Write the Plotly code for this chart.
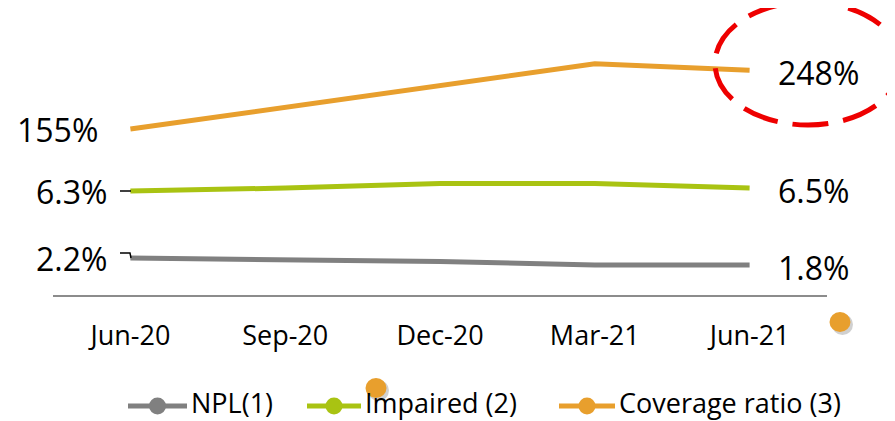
import plotly.graph_objects as go

# quarters and series (each line sits on its own hidden scale, like the slide)
QUARTERS = ["Jun-20", "Sep-20", "Dec-20", "Mar-21", "Jun-21"]
NPL = [2.2, 2.1, 2.0, 1.8, 1.8]
IMPAIRED = [6.3, 6.5, 6.8, 6.8, 6.5]
COVERAGE = [155, 189, 224, 258, 248]

NAMES = ["NPL(1)", "Impaired (2)", "Coverage ratio (3)"]
COLORS = ["#808080", "#A9C312", "#E89F2D"]

FONT = "Open Sans"

# the page body has an 8px margin, so the figure starts at (8, 8) in the window
OFF = 8
W, H = 895, 421
# plot area in window pixels, used to place the decorations
L, R, T, B = 53, 827, 10, 295
# legend swatches (start, end) in window pixels, drawn by hand for long swatches
LEGEND_SWATCH = [(128, 187), (307, 361), (559, 615)]
LEGEND_Y = 406


def px_x(p):
    return (p - L) / (R - L)


def px_y(p):
    return (B - p) / (B - T)


fig = go.Figure()

series = [NPL, IMPAIRED, COVERAGE]
axes = ["y", "y2", "y3"]
for vals, name, color, ax, (s0, s1) in zip(series, NAMES, COLORS, axes, LEGEND_SWATCH):
    fig.add_trace(go.Scatter(
        x=QUARTERS, y=vals, yaxis=ax, mode="lines", name=name,
        line=dict(color=color, width=5), showlegend=False, hoverinfo="skip",
    ))

    fmt = "{:.0f}%" if name.startswith("Coverage") else "{:.1f}%"
    fig.add_annotation(
        x=QUARTERS[0], y=vals[0], yref=ax, text=fmt.format(vals[0]),
        showarrow=False, xanchor="right", xshift=-21 if ax != "y3" else -30,
        font=dict(size=32, color="black", family=FONT),
    )
    fig.add_annotation(
        x=QUARTERS[-1], y=vals[-1], yref=ax, text=fmt.format(vals[-1]),
        showarrow=False, xanchor="left", xshift=26, yshift=-2,
        font=dict(size=32, color="black", family=FONT),
    )

    # legend entry: line swatch with a dot, then the name
    fig.add_shape(type="line", xref="paper", yref="paper",
                  x0=px_x(s0), x1=px_x(s1), y0=px_y(LEGEND_Y), y1=px_y(LEGEND_Y),
                  line=dict(color=color, width=5))
    mid = (s0 + s1) / 2
    fig.add_shape(type="circle", xref="paper", yref="paper",
                  x0=px_x(mid - 8.5), x1=px_x(mid + 8.5),
                  y0=px_y(LEGEND_Y + 8.5), y1=px_y(LEGEND_Y - 8.5),
                  fillcolor=color, line=dict(width=0))
    fig.add_annotation(
        xref="paper", yref="paper", x=px_x(s1 + 2), y=px_y(LEGEND_Y - 4),
        text=name, showarrow=False, xanchor="left", yanchor="middle",
        font=dict(size=27, color="black", family=FONT),
    )

# small leader lines next to the start labels
fig.add_shape(type="line", xref="paper", yref="paper",
              x0=px_x(120), x1=px_x(131), y0=px_y(191), y1=px_y(191),
              line=dict(color="black", width=1.5))
fig.add_shape(type="path", xref="paper", yref="paper",
              path=f"M{px_x(120)},{px_y(253)} L{px_x(130)},{px_y(253)} L{px_x(131)},{px_y(258)}",
              line=dict(color="black", width=1.5))

# red dashed highlight around the latest coverage ratio
fig.add_shape(type="circle", xref="paper", yref="paper",
              x0=px_x(715), x1=px_x(901), y0=px_y(125), y1=px_y(2),
              line=dict(color="#EE0000", width=5, dash="36px,15px"))

# stray orange dots from the slide, with a soft shadow
for cx, cy in [(840, 322), (376, 388)]:
    fig.add_shape(type="circle", xref="paper", yref="paper",
                  x0=px_x(cx - 8), x1=px_x(cx + 13), y0=px_y(cy + 13), y1=px_y(cy - 8),
                  fillcolor="rgba(120,120,120,0.35)", line=dict(width=0))
    fig.add_shape(type="circle", xref="paper", yref="paper",
                  x0=px_x(cx - 10.5), x1=px_x(cx + 10.5), y0=px_y(cy + 10), y1=px_y(cy - 10),
                  fillcolor="#E89F2D", line=dict(width=0))

hidden = dict(visible=False, fixedrange=True)
fig.update_layout(
    width=W, height=H,
    margin=dict(l=L - OFF, r=W - (R - OFF), t=T - OFF, b=H - (B - OFF), autoexpand=False),
    paper_bgcolor="white", plot_bgcolor="white",
    font=dict(family=FONT, color="black"),
    xaxis=dict(
        range=[-0.5, 4.5], showgrid=False, zeroline=False,
        showline=True, linecolor="#8C8C8C", linewidth=2,
        ticks="", tickfont=dict(size=27, color="black"), ticklabelstandoff=16,
    ),
    yaxis=dict(range=[0.086, 16.37], **hidden),
    yaxis2=dict(range=[-0.63, 18.37], overlaying="y", **hidden),
    yaxis3=dict(range=[-107, 343], overlaying="y", **hidden),
    showlegend=False,
)

fig.write_html("out.html")
